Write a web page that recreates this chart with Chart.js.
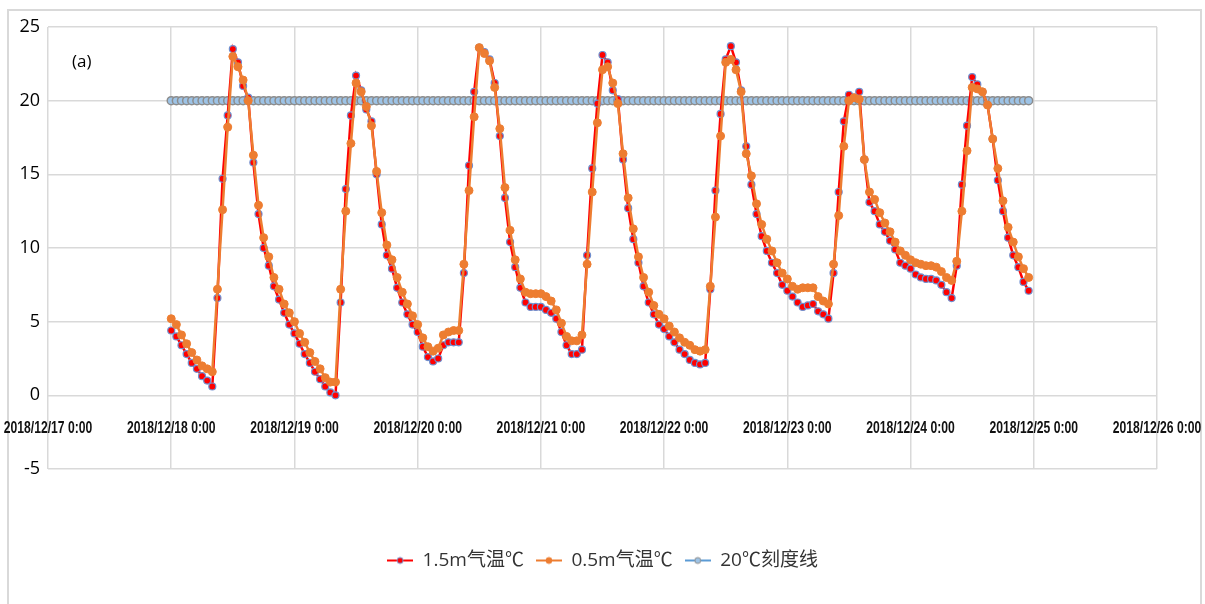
<!DOCTYPE html>
<html>
<head>
<meta charset="utf-8">
<script src="https://cdn.jsdelivr.net/npm/chart.js@4.4.1/dist/chart.umd.min.js"></script>
<style>
  html, body { margin: 0; padding: 0; background: #fff; }
  #wrap { position: relative; width: 1205px; height: 604px; }
  #frame { position: absolute; left: 7px; top: 9px; width: 1191px; height: 600px;
           border: 2px solid #d9d9d9; border-bottom: none; }
  #chart { position: absolute; left: 0; top: 0; }
</style>
</head>
<body>
<div id="wrap">
  <div id="frame"></div>
  <canvas id="chart" width="1205" height="604"></canvas>
</div>
<script>

// ---------------------------------------------------------------------------
// Data - hourly readings, 2018/12/18 0:00 to 2018/12/24 23:00 (one row = one day)
// ---------------------------------------------------------------------------

var dayLabels = ['2018/12/17 0:00', '2018/12/18 0:00', '2018/12/19 0:00', '2018/12/20 0:00',
                 '2018/12/21 0:00', '2018/12/22 0:00', '2018/12/23 0:00', '2018/12/24 0:00',
                 '2018/12/25 0:00', '2018/12/26 0:00'];
var firstHour = 24;   // hours after 2018/12/17 0:00

var seriesNames = ['1.5m气温℃', '0.5m气温℃', '20℃刻度线'];

var temp15 = [
  4.4, 4.0, 3.4, 2.8, 2.2, 1.8, 1.3, 1.0, 0.6, 6.6, 14.7, 19.0, 23.5, 22.6, 21.0, 20.2, 15.8, 12.3, 10.0, 8.8, 7.4, 6.5, 5.6, 4.8,
  4.2, 3.5, 2.8, 2.2, 1.6, 1.1, 0.6, 0.2, 0.0, 6.3, 14.0, 19.0, 21.7, 20.7, 19.4, 18.6, 15.0, 11.6, 9.5, 8.6, 7.3, 6.3, 5.5, 4.8,
  4.3, 3.3, 2.6, 2.3, 2.5, 3.4, 3.6, 3.6, 3.6, 8.3, 15.6, 20.6, 23.6, 23.3, 22.8, 21.2, 17.6, 13.4, 10.4, 8.7, 7.3, 6.3, 6.0, 6.0,
  6.0, 5.8, 5.6, 5.2, 4.3, 3.4, 2.8, 2.8, 3.1, 9.5, 15.4, 19.8, 23.1, 22.6, 20.7, 20.1, 16.0, 12.7, 10.6, 9.0, 7.4, 6.3, 5.5, 4.8,
  4.5, 4.0, 3.6, 3.1, 2.8, 2.4, 2.2, 2.1, 2.2, 7.2, 13.9, 19.1, 22.8, 23.7, 22.6, 20.7, 16.9, 14.3, 12.3, 10.8, 9.8, 9.0, 8.3, 7.5,
  7.1, 6.7, 6.3, 6.0, 6.1, 6.2, 5.7, 5.5, 5.2, 8.3, 13.8, 18.6, 20.4, 20.2, 20.6, 16.0, 13.1, 12.5, 11.6, 11.1, 10.5, 9.9, 9.0, 8.8,
  8.6, 8.2, 8.0, 7.9, 7.9, 7.8, 7.5, 7.0, 6.6, 8.8, 14.3, 18.3, 21.6, 21.1, 20.6, 19.7, 17.4, 14.6, 12.5, 10.7, 9.5, 8.7, 7.7, 7.1
];

var temp05 = [
  5.2, 4.8, 4.1, 3.5, 2.9, 2.4, 2.0, 1.8, 1.6, 7.2, 12.6, 18.2, 23.0, 22.3, 21.4, 20.0, 16.3, 12.9, 10.7, 9.4, 8.0, 7.2, 6.2, 5.6,
  5.0, 4.2, 3.6, 2.9, 2.3, 1.8, 1.2, 0.9, 0.9, 7.2, 12.5, 17.1, 21.2, 20.6, 19.6, 18.3, 15.2, 12.4, 10.2, 9.2, 8.0, 7.0, 6.2, 5.4,
  4.8, 3.9, 3.3, 3.0, 3.2, 4.1, 4.3, 4.4, 4.4, 8.9, 13.9, 18.9, 23.6, 23.2, 22.7, 20.9, 18.1, 14.1, 11.2, 9.2, 7.9, 7.0, 6.9, 6.9,
  6.9, 6.7, 6.4, 5.8, 4.9, 4.0, 3.7, 3.7, 4.1, 8.9, 13.8, 18.5, 22.1, 22.3, 21.2, 19.8, 16.4, 13.4, 11.3, 9.4, 8.0, 7.0, 6.1, 5.5,
  5.2, 4.7, 4.3, 3.9, 3.6, 3.4, 3.1, 3.0, 3.1, 7.4, 12.1, 17.6, 22.6, 22.8, 22.1, 20.6, 16.4, 14.9, 13.0, 11.6, 10.6, 9.8, 9.0, 8.3,
  7.9, 7.4, 7.2, 7.3, 7.3, 7.3, 6.7, 6.4, 6.2, 8.9, 12.2, 16.9, 20.0, 20.2, 20.1, 16.0, 13.8, 13.3, 12.4, 11.7, 11.1, 10.4, 9.8, 9.5,
  9.2, 9.0, 8.9, 8.8, 8.8, 8.7, 8.4, 8.0, 7.8, 9.1, 12.5, 16.6, 20.9, 20.8, 20.6, 19.7, 17.4, 15.4, 13.2, 11.4, 10.4, 9.4, 8.6, 8.0
];

var line20 = [
  20, 20, 20, 20, 20, 20, 20, 20, 20, 20, 20, 20, 20, 20, 20, 20, 20, 20, 20, 20, 20, 20, 20, 20,
  20, 20, 20, 20, 20, 20, 20, 20, 20, 20, 20, 20, 20, 20, 20, 20, 20, 20, 20, 20, 20, 20, 20, 20,
  20, 20, 20, 20, 20, 20, 20, 20, 20, 20, 20, 20, 20, 20, 20, 20, 20, 20, 20, 20, 20, 20, 20, 20,
  20, 20, 20, 20, 20, 20, 20, 20, 20, 20, 20, 20, 20, 20, 20, 20, 20, 20, 20, 20, 20, 20, 20, 20,
  20, 20, 20, 20, 20, 20, 20, 20, 20, 20, 20, 20, 20, 20, 20, 20, 20, 20, 20, 20, 20, 20, 20, 20,
  20, 20, 20, 20, 20, 20, 20, 20, 20, 20, 20, 20, 20, 20, 20, 20, 20, 20, 20, 20, 20, 20, 20, 20,
  20, 20, 20, 20, 20, 20, 20, 20, 20, 20, 20, 20, 20, 20, 20, 20, 20, 20, 20, 20, 20, 20, 20, 20
];

// ---------------------------------------------------------------------------
// Helpers
// ---------------------------------------------------------------------------

function toPoints(values) {
  return values.map(function (v, i) { return { x: firstHour + i, y: v }; });
}

// small "line + marker" icon for the legend, like the spreadsheet one
function legendIcon(lineColor, fill, stroke, r) {
  var c = document.createElement('canvas');
  c.width = 26; c.height = 12;
  var g = c.getContext('2d');
  g.strokeStyle = lineColor; g.lineWidth = 2;
  g.beginPath(); g.moveTo(0, 6); g.lineTo(26, 6); g.stroke();
  g.beginPath(); g.arc(13, 6, r, 0, Math.PI * 2);
  g.fillStyle = fill; g.fill();
  g.strokeStyle = stroke; g.lineWidth = 1; g.stroke();
  return c;
}

var icons = [
  legendIcon('#ff0000', '#ff0000', '#6f8fcf', 3),
  legendIcon('#ed7d31', '#ed7d31', '#ed7d31', 3),
  legendIcon('#5b9bd5', '#9dc3e6', '#8c8c8c', 3)
];

// "(a)" panel tag + narrow date labels (no narrow font installed, so squeeze them)
var extras = {
  id: 'extras',
  afterDraw: function (chart) {
    var ctx = chart.ctx, a = chart.chartArea;
    var xs = chart.scales.x, ys = chart.scales.y;
    ctx.save();
    ctx.font = '17px "Open Sans", sans-serif';
    ctx.fillStyle = '#000';
    ctx.textBaseline = 'middle';
    ctx.fillText('(a)', a.left + 24, a.top + 35);

    ctx.font = 'bold 17px "Liberation Sans", Arial, sans-serif';
    ctx.fillStyle = '#111';
    ctx.textAlign = 'center';
    var y = ys.getPixelForValue(0) + 33;
    xs.ticks.forEach(function (t) {
      var lbl = dayLabels[Math.round(t.value / 24)];
      if (!lbl) return;
      ctx.save();
      ctx.translate(xs.getPixelForValue(t.value), y);
      ctx.scale(0.715, 1);
      ctx.fillText(lbl, 0, 0);
      ctx.restore();
    });
    ctx.restore();
  }
};

// ---------------------------------------------------------------------------
// Chart
// ---------------------------------------------------------------------------

var ctx = document.getElementById('chart').getContext('2d');

var chart = new Chart(ctx, {
  type: 'line',
  data: {
    datasets: [{
      label: seriesNames[0],
      data: toPoints(temp15),
      borderColor: '#ff0000',
      borderWidth: 2.5,
      pointRadius: 3.5,
      pointBackgroundColor: '#ff0000',
      pointBorderColor: '#6f8fcf',
      pointBorderWidth: 1.2,
      order: 1
    }, {
      label: seriesNames[1],
      data: toPoints(temp05),
      borderColor: '#ed7d31',
      borderWidth: 2.5,
      pointRadius: 4,
      pointBackgroundColor: '#ed7d31',
      pointBorderColor: '#ed7d31',
      pointBorderWidth: 1,
      order: 0
    }, {
      label: seriesNames[2],
      data: toPoints(line20),
      borderColor: '#5b9bd5',
      borderWidth: 2,
      pointRadius: 4,
      pointBackgroundColor: '#9dc3e6',
      pointBorderColor: '#8c8c8c',
      pointBorderWidth: 1.5,
      order: 2
    }]
  },
  options: {
    responsive: false,
    animation: false,
    layout: { autoPadding: false, padding: { left: 8, right: 8, top: 27, bottom: 24 } },
    scales: {
      x: {
        type: 'linear',
        position: { y: 0 },
        min: 0,
        max: 216,
        border: { display: false },
        grid: { color: '#d9d9d9', lineWidth: 1.5, drawTicks: false },
        ticks: { stepSize: 24, autoSkip: false, display: false }
      },
      y: {
        min: -5,
        max: 25,
        border: { display: false },
        grid: { color: '#d9d9d9', lineWidth: 1.5, drawTicks: false },
        ticks: {
          stepSize: 5,
          padding: 8,
          color: '#000',
          font: { family: '"Open Sans", sans-serif', size: 18 }
        },
        afterFit: function (s) { s.width = 40; }
      },
      // empty right-hand strip, keeps the plot narrower than the legend row
      yRight: {
        position: 'right',
        min: -5,
        max: 25,
        border: { display: false },
        grid: { display: false },
        ticks: { display: false },
        afterFit: function (s) { s.width = 40; }
      }
    },
    plugins: {
      tooltip: { enabled: false },
      legend: {
        position: 'bottom',
        title: { display: true, text: '', font: { size: 10, lineHeight: 1 }, padding: { top: 60, bottom: 0 } },
        labels: {
          usePointStyle: true,
          pointStyleWidth: 26,
          padding: 12,
          color: '#333',
          font: { family: '"Open Sans", "Noto Sans CJK SC", sans-serif', size: 19 },
          sort: function (a, b) { return a.datasetIndex - b.datasetIndex; },
          generateLabels: function (chart) {
            var items = Chart.defaults.plugins.legend.labels.generateLabels(chart);
            items.forEach(function (it) { it.pointStyle = icons[it.datasetIndex]; });
            return items;
          }
        }
      }
    }
  },
  plugins: [extras]
});

</script>
</body>
</html>
